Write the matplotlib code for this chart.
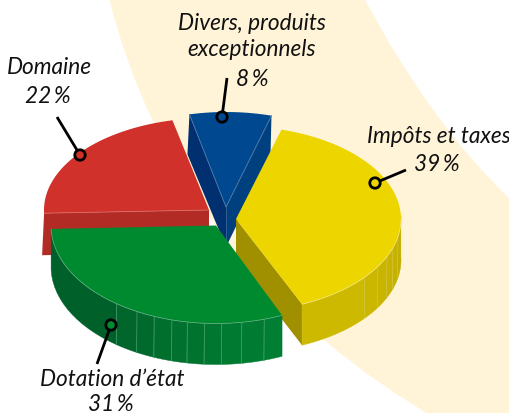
import numpy as np
import matplotlib
matplotlib.use("Agg")
import matplotlib.pyplot as plt
from matplotlib.patches import PathPatch, Polygon, Circle
from matplotlib.path import Path

# ---- data ----
categories = ["Domaine", "Dotation d\u2019\u00e9tat", "Imp\u00f4ts et taxes", "Divers, produits\nexceptionnels"]
values = [22, 31, 39, 8]

# ---- layout / style ----
START = 102.8
apex = [(209, 211), (216, 226.5), (236, 220), (226, 208)]
radii = [(165, 92), (165, 98), (165, 93), (165, 95)]
depth = [42, 41, 41, 40]
top_col = ["#D0312A", "#008A30", "#EDD500", "#004890"]
CREAM = "#FFF4D8"
FONT = "Lato"
FS = 16.3

fig = plt.figure(figsize=(5.10, 4.14), dpi=100)
ax = fig.add_axes([0, 0, 1, 1])
ax.set_xlim(0, 510)
ax.set_ylim(414, 0)
ax.axis("off")

# background band
band = Path(
    [(108, -5), (175, 270), (445, 425), (515, 425), (515, 205), (430, 125), (362, -5), (108, -5)],
    [Path.MOVETO, Path.CURVE3, Path.CURVE3, Path.LINETO, Path.LINETO, Path.CURVE3, Path.CURVE3, Path.CLOSEPOLY],
)
ax.add_patch(PathPatch(band, fc=CREAM, ec="none", zorder=0))


def rim(i, a):
    a = np.radians(a)
    return apex[i][0] + radii[i][0] * np.cos(a), apex[i][1] - radii[i][1] * np.sin(a)


def arc(i, a0, a1, n=60):
    return [rim(i, a) for a in np.linspace(a0, a1, n)]


def shift(pts, d):
    return [(x, y + d) for x, y in pts]


def band_quad(i, a0, a1, col, z):
    pts = arc(i, a0, a1, 16)
    poly = pts + shift(pts, depth[i])[::-1]
    ax.add_patch(Polygon(poly, closed=True, fc=col, ec=col, lw=0.3, zorder=z))


def seam(i, a, col, z):
    x, y = rim(i, a)
    ax.plot([x, x - 0.5], [y, y + depth[i]], color=col, lw=0.5, zorder=z, solid_capstyle="butt")


angles = np.cumsum([0] + values) * 3.6 + START
a0s, a1s = angles[:-1], angles[1:]

# --- Divers (blue), drawn first
i = 3
ax_ap = apex[i]
pL, pR = rim(i, a1s[i]), rim(i, a0s[i])
d = depth[i]
ax.add_patch(Polygon([pL, ax_ap, (ax_ap[0], ax_ap[1] + d), (pL[0] - 2, pL[1] + d)], fc="#003070", ec="none", zorder=1))
ax.add_patch(Polygon([pR, ax_ap, (ax_ap[0], ax_ap[1] + d), (pR[0] - 1, pR[1] + d)], fc="#00407F", ec="none", zorder=1))
ax.add_patch(Polygon([ax_ap] + arc(i, a0s[i], a1s[i]), fc=top_col[i], ec="none", zorder=2))
ax.plot([pL[0], ax_ap[0], pR[0]], [pL[1], ax_ap[1], pR[1]], color="#4C78A8", lw=0.6, zorder=2.1)
ax.plot([ax_ap[0], ax_ap[0]], [ax_ap[1], ax_ap[1] + d], color="#3A6596", lw=0.6, zorder=1.1)

# --- Domaine (red)
i = 0
ap = apex[i]
pE = rim(i, a1s[i])
d = depth[i]
ax.add_patch(Polygon([pE, ap, (ap[0], ap[1] + d), (pE[0] - 2, pE[1] + d)], fc="#B22B25", ec="none", zorder=3))
ax.add_patch(Polygon([ap] + arc(i, a0s[i], a1s[i]), fc=top_col[i], ec="none", zorder=4))
ax.plot([pE[0], ap[0]], [pE[1], ap[1]], color="#D96A62", lw=0.6, zorder=4.1)

# --- Impots (yellow)
i = 2
ap = apex[i]
pE = rim(i, a0s[i])
d = depth[i]
ax.add_patch(Polygon([ap, pE, (pE[0], pE[1] + d), (ap[0], ap[1] + d)], fc="#A09000", ec="none", zorder=5))
yb = [a0s[i], 321.3, 329.3, 336.2, 342, 349, 360 + 2]
yc = ["#CDB900", "#CBB700", "#C9B500", "#C7B300", "#C5B100", "#C3AF00"]
for a, b, c in zip(yb[:-1], yb[1:], yc):
    band_quad(i, a, b, c, 5.2)
for a in yb[1:-1]:
    seam(i, a, "#D6C640", 5.3)
ax.add_patch(Polygon([ap] + arc(i, a0s[i], a1s[i]), fc=top_col[i], ec="none", zorder=6))
ax.plot(*zip(*arc(i, a0s[i], 360)), color="#F6E98A", lw=0.5, zorder=6.1)

# --- Dotation (green)
i = 1
ap = apex[i]
gb = [a0s[i], 233, 241.4, 248, 254.5, 260, 266, 272, 279, 287, a1s[i]]
gc = ["#00602A", "#00662B", "#006A2C", "#006E2D", "#00712E", "#00742F", "#007730", "#007A31", "#007C32", "#007E33"]
for a, b, c in zip(gb[:-1], gb[1:], gc):
    band_quad(i, a, b, c, 7)
for a in gb[1:-1]:
    seam(i, a, "#4F9E6E", 7.1)
ax.add_patch(Polygon([ap] + arc(i, a0s[i], a1s[i]), fc=top_col[i], ec="none", zorder=8))
ax.plot(*zip(*arc(i, a0s[i], a1s[i])), color="#66B385", lw=0.5, zorder=8.1)

# --- leaders and labels
leaders = [((57, 118), (80, 156)), ((97, 365), (111, 326)), ((406, 171), (375, 184)), ((227, 79), (222, 118))]
for (p, q), c in zip(leaders, top_col):
    ax.plot([p[0], q[0]], [p[1], q[1]], color="black", lw=2.0, zorder=9, solid_capstyle="butt")
    ax.add_patch(Circle(q, 5.2, fc=c, ec="black", lw=2.0, zorder=10))

label_pos = [(49.5, 68), (112, 380), (438.5, 137), (252, 36.5)]
pct_pos = [(48, 97), (111, 405), (437, 165), (252, 80)]
for cat, v, p, q in zip(categories, values, label_pos, pct_pos):
    ax.text(p[0], p[1], cat, ha="center", va="center", fontsize=FS, style="italic",
            family=FONT, color="#111111", zorder=11, linespacing=1.3)
    ax.text(q[0], q[1], f"{v} %".replace(" ", "\u2009"), ha="center", va="center", fontsize=FS, style="italic",
            family=[FONT, "DejaVu Sans"], color="#111111", zorder=11)

fig.savefig("out.png", dpi=100)
